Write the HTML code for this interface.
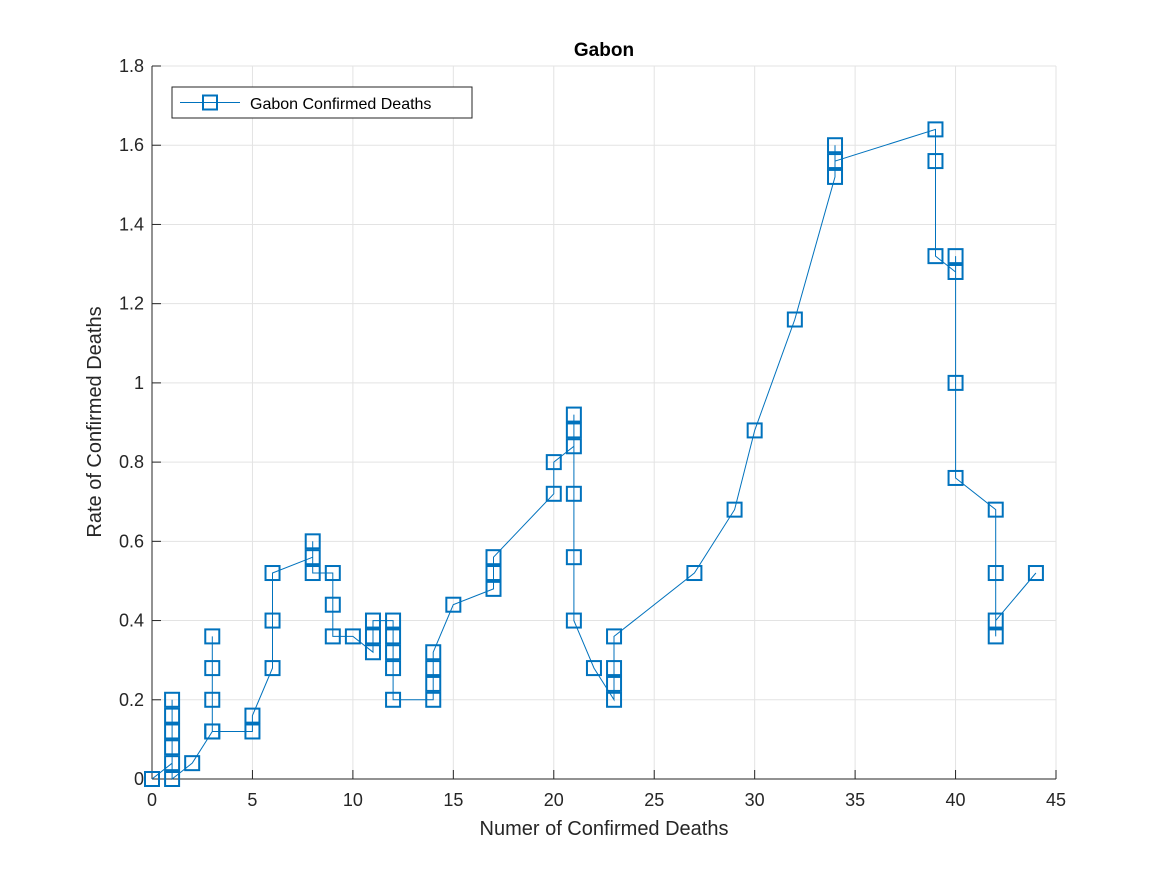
<!DOCTYPE html>
<html><head><meta charset="utf-8"><style>
body{margin:0;background:#fff;}
text{font-family:"Liberation Sans",Arial,sans-serif;fill:#262626;}
</style></head>
<body>
<svg id="chart" width="1167" height="875" xmlns="http://www.w3.org/2000/svg">
<rect width="1167" height="875" fill="#fff"/>
<g id="grid"></g>
<g id="axes"></g>
<g id="series"></g>
<text x="604" y="56" text-anchor="middle" font-size="19" font-weight="bold" style="fill:#000">Gabon</text>
<text x="604" y="835" text-anchor="middle" font-size="20">Numer of Confirmed Deaths</text>
<text transform="translate(101,422) rotate(-90)" text-anchor="middle" font-size="20">Rate of Confirmed Deaths</text>
<g>
<rect x="172" y="87" width="300" height="31" fill="#fff" stroke="#262626" stroke-width="1"/>
<line x1="180" y1="102.5" x2="240" y2="102.5" stroke="#0072BD" stroke-width="1"/>
<rect x="203" y="95.5" width="14" height="14" fill="none" stroke="#0072BD" stroke-width="2"/>
<text x="250" y="109" font-size="16" style="fill:#000">Gabon Confirmed Deaths</text>
</g>
</svg>
<script>
const xVals=[0,1,1,1,1,1,1,2,3,3,3,3,3,5,5,6,6,6,8,8,8,9,9,9,10,11,11,11,12,12,12,12,12,14,14,14,14,15,17,17,17,20,20,21,21,21,21,21,21,22,23,23,23,23,27,29,30,32,34,34,34,39,39,39,40,40,40,40,42,42,42,42,44];
const yVals=[0,0.04,0.08,0.12,0.16,0.2,0,0.04,0.12,0.2,0.28,0.36,0.12,0.12,0.16,0.28,0.4,0.52,0.56,0.6,0.52,0.52,0.44,0.36,0.36,0.32,0.36,0.4,0.4,0.36,0.32,0.28,0.2,0.2,0.24,0.28,0.32,0.44,0.48,0.52,0.56,0.72,0.8,0.84,0.88,0.92,0.72,0.56,0.4,0.28,0.2,0.24,0.28,0.36,0.52,0.68,0.88,1.16,1.52,1.6,1.56,1.64,1.56,1.32,1.28,1.32,1.0,0.76,0.68,0.52,0.36,0.4,0.52];
const xTicks=[0,5,10,15,20,25,30,35,40,45];
const yTicks=[0,0.2,0.4,0.6,0.8,1,1.2,1.4,1.6,1.8];
const yTickLabels=["0","0.2","0.4","0.6","0.8","1","1.2","1.4","1.6","1.8"];
const X0=152,X1=1056,Y0=779,Y1=66;
const sx=v=>X0+(v-0)/45*(X1-X0);
const sy=v=>Y0-(v-0)/1.8*(Y0-Y1);
const NS="http://www.w3.org/2000/svg";
function mk(tag,attrs,parent){const e=document.createElementNS(NS,tag);for(const k in attrs)e.setAttribute(k,attrs[k]);parent.appendChild(e);return e;}
const grid=document.getElementById('grid'),axes=document.getElementById('axes'),ser=document.getElementById('series');
xTicks.forEach(t=>{
 const x=sx(t);
 const g=mk('line',{x1:x,x2:x,y1:Y1,y2:Y0,stroke:'#e3e3e3','stroke-width':1},grid);
 
 
 mk('line',{x1:x,x2:x,y1:Y0,y2:Y0-9,stroke:'#262626','stroke-width':1},axes);
 const tx=mk('text',{x:x,y:Y0+27,'text-anchor':'middle','font-size':18},axes);
 tx.textContent=String(t);
 
 
});
yTicks.forEach((t,i)=>{
 const y=sy(t);
 const g=mk('line',{x1:X0,x2:X1,y1:y,y2:y,stroke:'#e3e3e3','stroke-width':1},grid);
 
 
 mk('line',{x1:X0,x2:X0+9,y1:y,y2:y,stroke:'#262626','stroke-width':1},axes);
 const tx=mk('text',{x:X0-8,y:y+6,'text-anchor':'end','font-size':18},axes);
 tx.textContent=yTickLabels[i];
 
 
});
mk('line',{x1:X0,x2:X1,y1:Y0,y2:Y0,stroke:'#262626','stroke-width':1},axes);
mk('line',{x1:X0,x2:X0,y1:Y1,y2:Y0,stroke:'#262626','stroke-width':1},axes);
const pts=xVals.map((x,i)=>sx(x).toFixed(1)+','+sy(yVals[i]).toFixed(1)).join(' ');
const pl=mk('polyline',{points:pts,fill:'none',stroke:'#0072BD','stroke-width':1},ser);


xVals.forEach((x,i)=>{
 const r=mk('rect',{x:sx(x)-7,y:sy(yVals[i])-7,width:14,height:14,fill:'none',stroke:'#0072BD','stroke-width':2},ser);
 
 
});
</script>
</body></html>
